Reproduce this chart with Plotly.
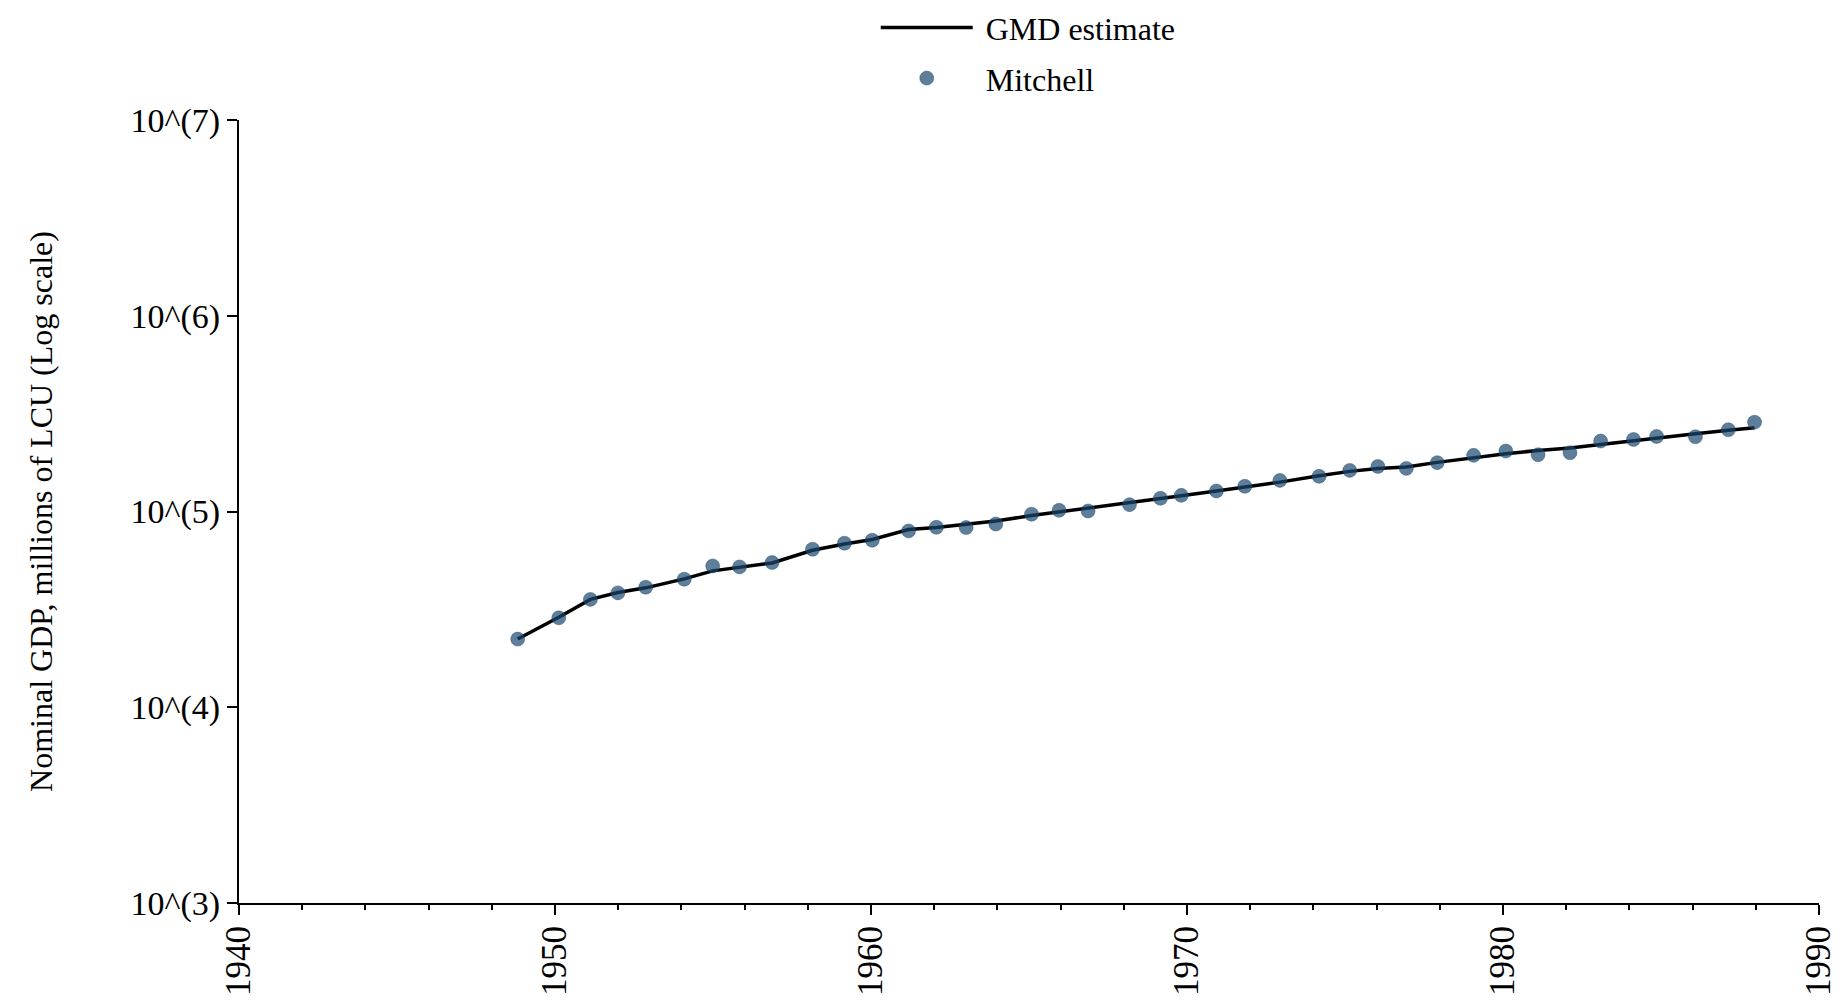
import plotly.graph_objects as go

# data (x positions as drawn, in years)
years = [1948.82, 1950.12, 1951.12, 1951.99, 1952.87, 1954.09, 1954.99, 1955.84,
         1956.87, 1958.15, 1959.16, 1960.04, 1961.19, 1962.07, 1963.01, 1963.95,
         1965.08, 1965.95, 1966.87, 1968.18, 1969.16, 1969.82, 1970.93, 1971.83,
         1972.94, 1974.18, 1975.15, 1976.04, 1976.94, 1977.92, 1979.07, 1980.09,
         1981.11, 1982.12, 1983.09, 1984.13, 1984.86, 1986.09, 1987.13, 1987.96]

mitchell = [22300, 28640, 35560, 38390, 41050, 45100, 52720, 52120,
            54840, 64140, 68860, 71290, 79580, 83040, 82780, 86330,
            96820, 101400, 100600, 108400, 116800, 120900, 127300, 134500,
            144200, 151300, 162200, 169900, 166000, 177600, 193600, 203600,
            195000, 199600, 229000, 233400, 241700, 241000, 261600, 286000]

gmd = [22300, 28840, 35560, 38570, 40740, 45290, 49750, 52120,
       54600, 63410, 68240, 71920, 80860, 82780, 86090, 89500,
       95290, 99380, 103500, 110500, 116400, 120500, 127300, 133300,
       141300, 152400, 160300, 166000, 168700, 178200, 188300, 197300,
       205100, 210800, 220200, 230700, 238200, 249500, 260400, 267700]

y_tickvals = [1e3, 1e4, 1e5, 1e6, 1e7]
y_ticktext = ['10^(3)', '10^(4)', '10^(5)', '10^(6)', '10^(7)']
x_tickvals = [1940, 1950, 1960, 1970, 1980, 1990]

font = 'Liberation Serif, Times New Roman, serif'

fig = go.Figure()
fig.add_trace(go.Scatter(x=years, y=gmd, mode='lines', name=' GMD estimate',
                         legendgroup='gmd',
                         line=dict(color='black', width=3.5)))
fig.add_trace(go.Scatter(x=years, y=mitchell, mode='markers', name=' Mitchell',
                         legendgroup='mitchell',
                         marker=dict(color='rgba(26,71,111,0.7)', size=14,
                                     line=dict(color='rgba(26,71,111,0.4)', width=1))))

# page body adds ~8px offset, so margins are shifted to compensate
fig.update_layout(
    width=1845, height=1008,
    margin=dict(l=231, r=34, t=112, b=113, autoexpand=False),
    paper_bgcolor='white', plot_bgcolor='white',
    font=dict(family=font, size=32, color='black'),
    showlegend=True,
    legend=dict(x=0.403, y=1.153, xanchor='left', yanchor='top',
                orientation='v', itemwidth=92, tracegroupgap=6,
                font=dict(size=32), bgcolor='rgba(0,0,0,0)'),
)

fig.update_xaxes(
    range=[1940, 1990], tickvals=x_tickvals, tickangle=-90,
    showgrid=False, zeroline=False, automargin=False,
    showline=True, linecolor='black', linewidth=2,
    ticks='outside', ticklen=10, tickwidth=2, tickcolor='black',
    tickfont=dict(size=35), ticklabelstandoff=-3,
    minor=dict(dtick=2, ticks='outside', ticklen=5, tickwidth=1.5, tickcolor='black'),
)
fig.update_yaxes(
    type='log', range=[3, 7], tickvals=y_tickvals, ticktext=y_ticktext,
    showgrid=False, zeroline=False, automargin=False,
    showline=True, linecolor='black', linewidth=2,
    ticks='outside', ticklen=10, tickwidth=2, tickcolor='black',
    tickfont=dict(size=34),
    title=dict(text='Nominal GDP, millions of LCU (Log scale)',
               font=dict(size=32), standoff=68),
)

fig.write_html("out.html")
